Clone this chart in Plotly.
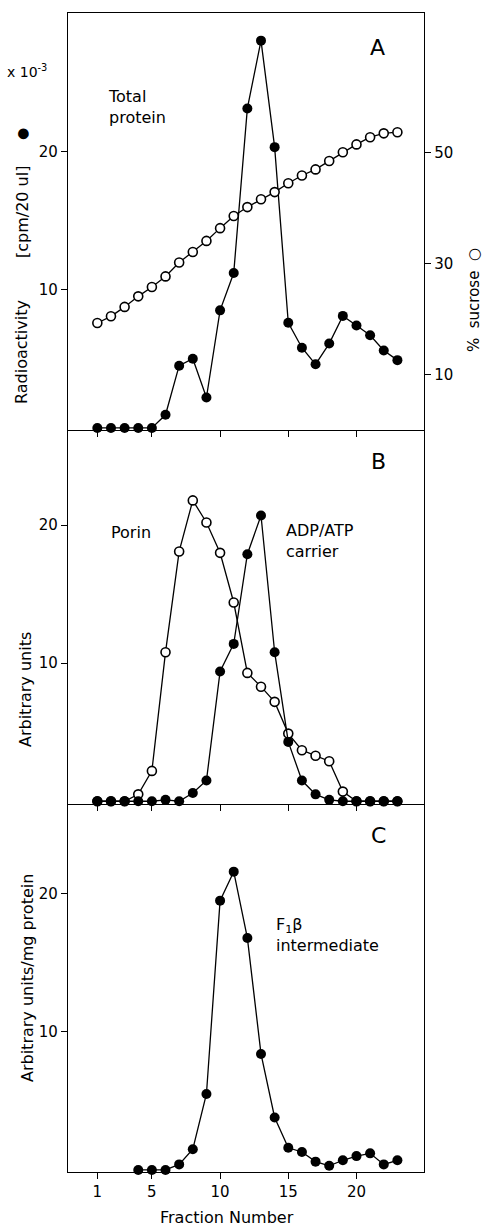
import plotly.graph_objects as go
from plotly.subplots import make_subplots

# ---------------- data ----------------
fractions = list(range(1, 24))
total_protein = [0, 0, 0, 0, 0, 0.95, 4.5, 5.0, 2.2, 8.5, 11.2, 23.1, 28.0, 20.3,
                 7.6, 5.8, 4.6, 6.1, 8.1, 7.4, 6.7, 5.6, 4.9]
sucrose = [19.3, 20.5, 22.2, 24.1, 25.8, 27.7, 30.2, 32.1, 34.1, 36.4, 38.6, 40.2,
           41.6, 42.9, 44.5, 45.9, 47.0, 48.5, 50.1, 51.5, 52.8, 53.5, 53.7]
porin = [0, 0, 0, 0.5, 2.2, 10.8, 18.1, 21.8, 20.2, 18.0, 14.4, 9.3, 8.3, 7.2,
         4.9, 3.7, 3.3, 2.9, 0.7, 0, 0, 0, 0]
adp_atp = [0, 0, 0, 0, 0, 0.1, 0, 0.6, 1.5, 9.4, 11.4, 17.9, 20.7, 10.8,
           4.3, 1.5, 0.5, 0.1, 0, 0, 0, 0, 0]
f1b_fractions = list(range(4, 24))
f1b = [0, 0, 0, 0.4, 1.5, 5.5, 19.5, 21.6, 16.8, 8.4, 3.8, 1.6, 1.3, 0.6, 0.3,
       0.7, 1.0, 1.2, 0.4, 0.7]
x_ticks = [1, 5, 10, 15, 20]
left_ticks = [10, 20]
right_ticks = [10, 30, 50]

# ---------------- geometry helpers ----------------
W, H = 483, 1228
L, R, T, B = 68, 59, 13, 56
PW, PH = W - L - R, H - T - B


def px(x):
    return (x - L) / PW


def py(y):
    return (H - B - y) / PH


FONT = "DejaVu Sans"

fig = make_subplots(rows=3, cols=1, shared_xaxes=True, vertical_spacing=0,
                    specs=[[{"secondary_y": True}], [{}], [{}]])

filled = dict(symbol="circle", size=10, color="black", line=dict(color="black", width=0))
hollow = dict(symbol="circle", size=9, color="white", line=dict(color="black", width=1.6))
ln = dict(color="black", width=1.3)

fig.add_trace(go.Scatter(x=fractions, y=total_protein, mode="lines+markers",
                         marker=filled, line=ln, cliponaxis=False),
              row=1, col=1, secondary_y=False)
fig.add_trace(go.Scatter(x=fractions, y=sucrose, mode="lines+markers",
                         marker=hollow, line=ln, cliponaxis=False),
              row=1, col=1, secondary_y=True)
fig.add_trace(go.Scatter(x=fractions, y=porin, mode="lines+markers",
                         marker=hollow, line=ln, cliponaxis=False), row=2, col=1)
fig.add_trace(go.Scatter(x=fractions, y=adp_atp, mode="lines+markers",
                         marker=filled, line=ln, cliponaxis=False), row=2, col=1)
fig.add_trace(go.Scatter(x=f1b_fractions, y=f1b, mode="lines+markers",
                         marker=filled, line=ln, cliponaxis=False), row=3, col=1)

axis_common = dict(showline=True, linecolor="black", linewidth=1.4,
                   showgrid=False, zeroline=False, ticks="outside", ticklen=6,
                   tickwidth=1.2, tickcolor="black", automargin=False,
                   tickfont=dict(family=FONT, size=15, color="black"))

fig.update_xaxes(range=[-1.15, 24.95], tickvals=x_ticks, mirror=True, domain=[0, 1],
                 showticklabels=False, **axis_common, row=1, col=1)
fig.update_xaxes(range=[-1.15, 24.95], tickvals=x_ticks, mirror=False, domain=[0, 1],
                 showticklabels=False, **axis_common, row=2, col=1)
fig.update_xaxes(range=[-1.15, 24.95], tickvals=x_ticks, mirror=False, domain=[0, 1],
                 showticklabels=True, **axis_common, row=3, col=1)

fig.update_yaxes(range=[-0.15, 30.0], tickvals=left_ticks, mirror=True, **axis_common,
                 row=1, col=1, secondary_y=False)
fig.update_yaxes(range=[0, 75.2], tickvals=right_ticks, **axis_common,
                 row=1, col=1, secondary_y=True)
fig.update_yaxes(range=[-0.2, 26.9], tickvals=left_ticks, mirror=True, **axis_common,
                 row=2, col=1)
fig.update_yaxes(range=[-0.15, 26.5], tickvals=left_ticks, mirror=True, **axis_common,
                 row=3, col=1)

dC = 368 / PH
dB = 742 / PH
fig.update_layout(
    yaxis=dict(domain=[dB, 1]),
    yaxis2=dict(domain=[dB, 1]),
    yaxis3=dict(domain=[dC, dB]),
    yaxis4=dict(domain=[0, dC]),
)

ann = []


def add(text, x, y, size=16, angle=0, xanchor="center", yanchor="middle", align="center"):
    ann.append(dict(text=text, x=px(x), y=py(y), xref="paper", yref="paper",
                    showarrow=False, textangle=angle, xanchor=xanchor,
                    yanchor=yanchor, align=align,
                    font=dict(family=FONT, size=size, color="black")))


add("A", 377, 47, size=22)
add("B", 378, 462, size=22)
add("C", 378, 835, size=22)
add("Total<br>protein", 106, 107, xanchor="left", align="left")
add("Porin", 131, 532)
add("ADP/ATP<br>carrier", 284, 541, xanchor="left", align="left")
add("F<sub>1</sub>β<br>intermediate", 274, 935, xanchor="left", align="left")
add("x 10<sup>-3</sup>", 27, 71, size=14)
add("Radioactivity", 22, 352, angle=-90)
add("[cpm/20 ul]", 22, 212, angle=-90)
add("●", 22, 134, size=14, angle=-90)
add("%  sucrose  ○", 474, 300, size=15, angle=-90)
add("Arbitrary units", 25, 690, angle=-90)
add("Arbitrary units/mg protein", 28, 978, angle=-90)
add("Fraction Number", 227, 1217, size=16)

fig.update_layout(
    template="none",
    width=W, height=H,
    margin=dict(l=L, r=R, t=T, b=B, autoexpand=False),
    paper_bgcolor="white", plot_bgcolor="white",
    showlegend=False,
    font=dict(family=FONT, size=15, color="black"),
    annotations=ann,
)

fig.write_html("out.html",
               config={"displayModeBar": False},
               post_script="document.body.style.margin='0';document.body.style.overflow='hidden';")
